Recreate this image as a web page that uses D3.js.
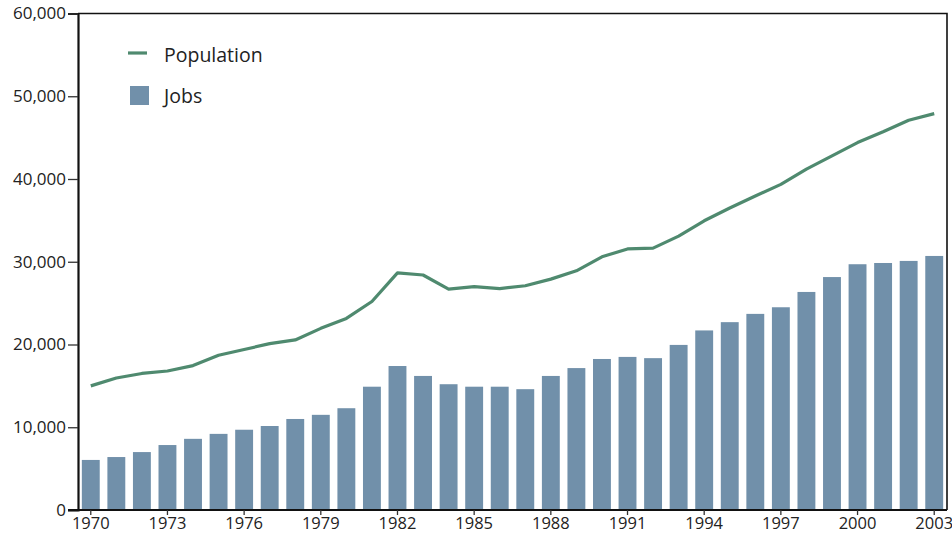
<!DOCTYPE html>
<html>
<head>
<meta charset="utf-8">
<script src="https://cdn.jsdelivr.net/npm/d3@7"></script>
<style>
  body { margin: 0; background: #fff; }
  svg text { font-family: "Open Sans", "Noto Sans", sans-serif; fill: #222; }
</style>
</head>
<body>
<div id="chart"></div>
<script>
// years 1970 - 2003
const years = [1970, 1971, 1972, 1973, 1974, 1975, 1976, 1977, 1978, 1979,
    1980, 1981, 1982, 1983, 1984, 1985, 1986, 1987, 1988, 1989,
    1990, 1991, 1992, 1993, 1994, 1995, 1996, 1997, 1998, 1999,
    2000, 2001, 2002, 2003];

const jobs = [6050, 6400, 7000, 7850, 8600, 9200, 9700, 10150, 11000, 11500,
    12300, 14900, 17400, 16200, 15200, 14900, 14900, 14600, 16200, 17150,
    18250, 18500, 18350, 19950, 21700, 22700, 23700, 24500, 26350, 28150,
    29700, 29850, 30100, 30700];

const population = [15000, 15950, 16500, 16800, 17450, 18700, 19400, 20100, 20550, 21950,
    23150, 25200, 28650, 28400, 26700, 27000, 26750, 27100, 27900, 28900,
    30600, 31550, 31650, 33100, 34950, 36500, 37950, 39350, 41200, 42800,
    44400, 45700, 47100, 47900];

const yTicks = [0, 10000, 20000, 30000, 40000, 50000, 60000];
const xTickYears = [1970, 1973, 1976, 1979, 1982, 1985, 1988, 1991, 1994, 1997, 2000, 2003];

const width = 952, height = 537;
const margin = {top: 13.5, right: 5, bottom: 27, left: 78};

const svg = d3.select("#chart")
    .append("svg")
    .attr("width", width)
    .attr("height", height);

const x = d3.scaleBand()
    .domain(years)
    .range([margin.left, width - margin.right])
    .paddingInner(0.3)
    .paddingOuter(0.15);

const y = d3.scaleLinear()
    .domain([0, 60000])
    .range([height - margin.bottom, margin.top]);

// bars
svg.append("g")
    .selectAll("rect")
    .data(years)
    .join("rect")
    .attr("x", d => x(d))
    .attr("width", x.bandwidth())
    .attr("y", (d, i) => y(jobs[i]))
    .attr("height", (d, i) => y(0) - y(jobs[i]))
    .attr("fill", "#7190aa");

// population line
const line = d3.line()
    .x((d, i) => x(years[i]) + x.bandwidth() / 2)
    .y(d => y(d));

svg.append("path")
    .datum(population)
    .attr("d", line)
    .attr("fill", "none")
    .attr("stroke", "#4f8a6f")
    .attr("stroke-width", 3.2)
    .attr("stroke-linejoin", "round");

// frame (top and right)
svg.append("path")
    .attr("d", `M${margin.left},${margin.top}H${width - margin.right}V${y(0)}`)
    .attr("fill", "none")
    .attr("stroke", "#111")
    .attr("stroke-width", 1.6);

// y axis
const yAxis = svg.append("g")
    .attr("transform", `translate(${margin.left},0)`)
    .call(d3.axisLeft(y).tickValues(yTicks).tickFormat(d3.format(",")).tickSizeOuter(0).tickSize(10).tickPadding(2));
yAxis.select(".domain").attr("stroke", "#111").attr("stroke-width", 2.2);
yAxis.selectAll(".tick line").attr("stroke", "#333").attr("stroke-width", 1.3);
yAxis.selectAll("text").style("font-size", "17px").attr("fill", "#222");

// x axis
const xAxis = svg.append("g")
    .attr("transform", `translate(0,${y(0)})`)
    .call(d3.axisBottom(x).tickValues(xTickYears).tickSizeOuter(0).tickSize(5).tickPadding(2));
xAxis.select(".domain")
    .attr("d", `M${margin.left - 10},0H${width - margin.right}`)
    .attr("stroke", "#111").attr("stroke-width", 2.2);
xAxis.selectAll(".tick line").attr("stroke", "#333").attr("stroke-width", 1.3);
xAxis.selectAll("text").style("font-size", "16.5px").attr("fill", "#222");

// legend
const legend = svg.append("g");
legend.append("line")
    .attr("x1", 128).attr("x2", 147)
    .attr("y1", 53).attr("y2", 53)
    .attr("stroke", "#4f8a6f")
    .attr("stroke-width", 3.2);
legend.append("text")
    .attr("x", 164).attr("y", 62)
    .style("font-size", "19.5px")
    .text("Population");
legend.append("rect")
    .attr("x", 130).attr("y", 86)
    .attr("width", 19).attr("height", 19)
    .attr("fill", "#7190aa");
legend.append("text")
    .attr("x", 164).attr("y", 103)
    .style("font-size", "19.5px")
    .text("Jobs");
</script>
</body>
</html>
